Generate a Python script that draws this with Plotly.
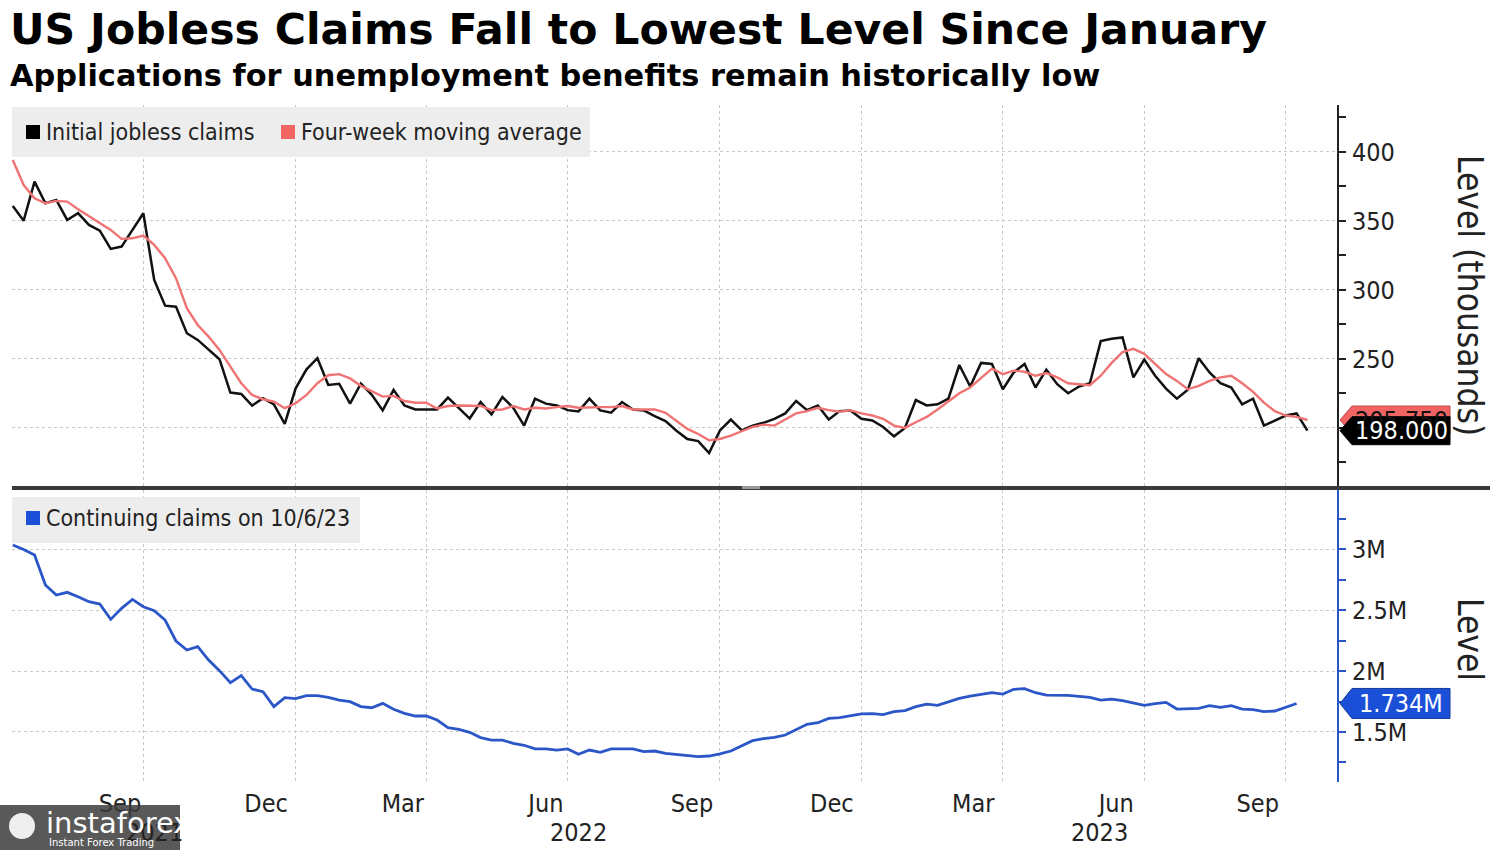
import pandas as pd
import plotly.graph_objects as go

# ---------------- data ----------------
# Initial jobless claims, thousands, weekly (week ending Saturday)
initial_claims = [
    360.9, 350.2, 378.5, 362.8, 365.2, 350.7, 355.6, 347.1, 343.0, 329.7,
    331.4, 343.5, 355.6, 307.2, 288.6, 287.9, 268.6, 263.8, 257.0, 249.8,
    225.6, 224.6, 216.2, 221.5, 217.1, 202.9, 228.7, 242.5, 250.5, 231.2,
    232.0, 217.6, 232.2, 224.0, 212.7, 227.6, 216.3, 213.4, 213.4, 213.4,
    222.0, 214.6, 206.8, 218.8, 209.8, 222.4, 214.6, 201.7, 221.2, 217.6,
    216.3, 212.9, 212.0, 221.2, 212.7, 211.0, 218.8, 213.4, 212.7, 208.5,
    204.9, 198.0, 192.0, 190.5, 181.8, 198.2, 206.1, 198.3, 201.7, 203.7,
    206.6, 210.5, 219.5, 212.9, 216.3, 206.1, 212.2, 212.7, 206.6, 205.4,
    200.7, 193.9, 200.0, 220.2, 216.3, 217.1, 221.2, 245.6, 230.0, 247.1,
    246.3, 228.0, 240.2, 246.3, 229.3, 242.2, 231.7, 225.1, 230.0, 232.4,
    262.9, 264.6, 265.6, 236.6, 249.5, 237.8, 228.5, 221.2, 227.6, 250.5,
    240.2, 232.4, 229.3, 217.1, 221.2, 201.7, 205.4, 209.0, 210.5, 198.0,
]

# Four-week moving average, thousands
moving_average = [
    394.2, 376.0, 366.4, 362.8, 364.5, 364.0, 358.5, 353.6, 348.3, 343.5,
    337.0, 337.4, 339.4, 332.6, 323.0, 308.5, 286.7, 274.6, 266.2, 256.5,
    244.4, 232.4, 223.9, 220.8, 219.1, 214.3, 217.9, 223.9, 232.4, 238.2,
    239.0, 235.9, 230.5, 226.8, 222.7, 223.2, 219.5, 218.3, 218.3, 214.1,
    215.9, 216.3, 216.3, 215.9, 212.9, 213.4, 215.9, 213.4, 214.6, 214.1,
    215.1, 215.9, 214.6, 215.1, 215.1, 215.1, 215.9, 213.4, 213.4, 213.4,
    211.0, 204.9, 199.3, 195.6, 191.0, 192.0, 194.4, 197.6, 200.7, 202.4,
    201.7, 206.1, 210.5, 212.2, 214.6, 212.9, 211.7, 212.7, 210.5, 209.0,
    206.6, 201.7, 200.0, 204.1, 208.0, 213.4, 219.5, 225.1, 229.3, 235.9,
    243.0, 239.0, 241.5, 240.7, 237.8, 239.8, 236.6, 232.4, 231.7, 231.0,
    237.8, 247.1, 254.9, 257.3, 253.7, 246.3, 239.0, 234.1, 228.0, 230.5,
    234.1, 236.6, 237.8, 232.4, 226.1, 218.3, 212.2, 209.0, 208.0, 205.75,
]

# Continuing claims, millions, weekly
continuing_claims = [
    3.033, 2.997, 2.951, 2.705, 2.623, 2.645, 2.609, 2.568, 2.549, 2.423,
    2.514, 2.587, 2.527, 2.495, 2.418, 2.246, 2.172, 2.199, 2.090, 2.003,
    1.904, 1.962, 1.852, 1.831, 1.708, 1.781, 1.773, 1.798, 1.798, 1.784,
    1.762, 1.749, 1.708, 1.699, 1.735, 1.686, 1.653, 1.631, 1.631, 1.598,
    1.536, 1.522, 1.497, 1.454, 1.434, 1.434, 1.407, 1.391, 1.361, 1.361,
    1.352, 1.361, 1.317, 1.352, 1.333, 1.361, 1.361, 1.361, 1.339, 1.344,
    1.325, 1.317, 1.303, 1.298, 1.303, 1.320, 1.344, 1.385, 1.429, 1.445,
    1.456, 1.475, 1.522, 1.563, 1.576, 1.612, 1.617, 1.631, 1.648, 1.650,
    1.642, 1.667, 1.675, 1.708, 1.729, 1.719, 1.749, 1.776, 1.795, 1.811,
    1.822, 1.811, 1.850, 1.855, 1.822, 1.803, 1.803, 1.800, 1.792, 1.784,
    1.762, 1.770, 1.757, 1.735, 1.719, 1.732, 1.743, 1.688, 1.694, 1.694,
    1.716, 1.702, 1.716, 1.688, 1.683, 1.667, 1.672, 1.700, 1.734,
]

first_week = "2021-07-03"
initial_dates = pd.date_range(first_week, periods=len(initial_claims), freq="7D")
continuing_dates = pd.date_range(first_week, periods=len(continuing_claims), freq="7D")

month_tick_dates = ["2021-09-10", "2021-12-13", "2022-03-11", "2022-06-11", "2022-09-13",
                    "2022-12-12", "2023-03-13", "2023-06-13", "2023-09-12"]
month_tick_labels = ["Sep", "Dec", "Mar", "Jun", "Sep", "Dec", "Mar", "Jun", "Sep"]
# vertical gridlines sit on the quarter-boundary weeks, as in the reference
quarter_grid_dates = ["2021-09-25", "2022-01-01", "2022-03-26", "2022-06-25", "2022-10-01",
                      "2022-12-31", "2023-04-01", "2023-07-01", "2023-09-30"]
year_labels = ["2021", "2022", "2023"]
year_label_dates = ["2021-10-02", "2022-07-02", "2023-06-02"]

top_ticks = [200, 250, 300, 350, 400]
top_minor = [175, 225, 275, 325, 375, 425]
bottom_ticks = [1.5, 2.0, 2.5, 3.0]
bottom_tick_labels = ["1.5M", "2M", "2.5M", "3M"]
bottom_minor = [1.25, 1.75, 2.25, 2.75, 3.25]

x_range = ["2021-07-02 12:00", "2023-11-02"]

# ---------------- styling ----------------
W, H = 1500, 850
FONT = "DejaVu Sans Condensed, DejaVu Sans, sans-serif"
TITLE_FONT = "DejaVu Sans, sans-serif"
BLACK = "#111111"
RED = "#ef7373"
RED_BOX = "#f06464"
BLUE = "#2a56c8"
BLUE_BOX = "#1c4fd8"
GRID = "#c9c9c9"
TXT = "#222222"


def px(x):
    return x / W


def py(y):
    return 1 - y / H


PLOT_L, PLOT_R = 12, 1337
TOP_T, TOP_B = 105, 487
BOT_T, BOT_B = 490, 782

fig = go.Figure()
fig.add_trace(go.Scatter(x=initial_dates, y=initial_claims, mode="lines",
                         line=dict(color=BLACK, width=2.5), xaxis="x", yaxis="y",
                         name="Initial jobless claims", showlegend=False))
fig.add_trace(go.Scatter(x=initial_dates, y=moving_average, mode="lines",
                         line=dict(color=RED, width=2.4), xaxis="x", yaxis="y",
                         name="Four-week moving average", showlegend=False))
fig.add_trace(go.Scatter(x=continuing_dates, y=[v * 1e6 for v in continuing_claims],
                         mode="lines", line=dict(color=BLUE, width=2.8),
                         xaxis="x2", yaxis="y2", name="Continuing claims",
                         showlegend=False))

common_x = dict(domain=[px(PLOT_L), px(PLOT_R)], type="date", range=x_range,
                zeroline=False, showline=False, automargin=False)

fig.update_layout(
    width=W, height=H,
    margin=dict(l=0, r=0, t=0, b=0),
    paper_bgcolor="white", plot_bgcolor="white",
    font=dict(family=FONT, color=TXT),
    xaxis=dict(**common_x, anchor="y", tickvals=quarter_grid_dates,
               showticklabels=False, ticks="", showgrid=True,
               gridcolor=GRID, griddash="dot", gridwidth=1),
    yaxis=dict(domain=[py(TOP_B), py(TOP_T)], anchor="x", side="right",
               range=[157.2, 434], tickvals=top_ticks,
               ticktext=[str(v) for v in top_ticks],
               showgrid=True, gridcolor=GRID, griddash="dot", gridwidth=1,
               ticks="outside", ticklen=7, tickwidth=2, tickcolor=TXT,
               showline=True, linecolor=TXT, linewidth=2,
               minor=dict(tickvals=top_minor, ticks="outside", ticklen=7,
                          tickwidth=1.5, tickcolor=TXT, showgrid=False),
               tickfont=dict(size=25, color=TXT, family=FONT),
               ticklabelstandoff=1, zeroline=False, automargin=False),
    xaxis2=dict(**common_x, anchor="y2", tickvals=month_tick_dates,
                ticktext=month_tick_labels, ticks="", showgrid=False,
                tickfont=dict(size=25, color=TXT, family=FONT),
                ticklabelstandoff=4,
                minor=dict(tickvals=quarter_grid_dates, showgrid=True,
                           gridcolor=GRID, griddash="dot", gridwidth=1, ticks="")),
    yaxis2=dict(domain=[py(BOT_B), py(BOT_T)], anchor="x2", side="right",
                range=[1.09e6, 3.484e6], tickvals=[v * 1e6 for v in bottom_ticks],
                ticktext=bottom_tick_labels,
                showgrid=True, gridcolor=GRID, griddash="dot", gridwidth=1,
                ticks="outside", ticklen=7, tickwidth=2, tickcolor=BLUE,
                showline=True, linecolor=BLUE, linewidth=2,
                minor=dict(tickvals=[v * 1e6 for v in bottom_minor], ticks="outside",
                           ticklen=7, tickwidth=1.5, tickcolor=BLUE, showgrid=False),
                tickfont=dict(size=25, color=TXT, family=FONT),
                ticklabelstandoff=1, zeroline=False, automargin=False),
)

shapes = []
annotations = []

# legend boxes
shapes.append(dict(type="rect", xref="paper", yref="paper", layer="above",
                   x0=px(12), x1=px(590), y0=py(157), y1=py(107),
                   fillcolor="#ededed", line=dict(width=0)))
shapes.append(dict(type="rect", xref="paper", yref="paper", layer="above",
                   x0=px(12), x1=px(360), y0=py(543), y1=py(497),
                   fillcolor="#ededed", line=dict(width=0)))
for (x0, yc, col) in [(26, 132, "#000000"), (281, 132, RED_BOX), (26, 518, BLUE_BOX)]:
    shapes.append(dict(type="rect", xref="paper", yref="paper", layer="above",
                       x0=px(x0), x1=px(x0 + 14), y0=py(yc + 7), y1=py(yc - 7),
                       fillcolor=col, line=dict(width=0)))
for (x0, yc, txt) in [(44, 132, "Initial jobless claims"),
                      (299, 132, "Four-week moving average"),
                      (44, 518, "Continuing claims on 10/6/23")]:
    annotations.append(dict(xref="paper", yref="paper", x=px(x0), y=py(yc),
                            xanchor="left", yanchor="middle", showarrow=False,
                            text=txt, font=dict(size=23, color=TXT, family=FONT)))

# separator between panels
shapes.append(dict(type="line", xref="paper", yref="paper", layer="above",
                   x0=px(12), x1=px(1490), y0=py(488), y1=py(488),
                   line=dict(color="#3a3a3a", width=4)))
shapes.append(dict(type="rect", xref="paper", yref="paper", layer="above",
                   x0=px(742), x1=px(760), y0=py(489), y1=py(486),
                   fillcolor="#9a9a9a", line=dict(width=0)))

# last-value labels
label_path = "M 3,0 L 15,14 L 113,14 L 113,-14 L 15,-14 Z"
shapes.append(dict(type="path", xref="paper", yref="y", layer="above",
                   xsizemode="pixel", ysizemode="pixel",
                   xanchor=px(PLOT_R), yanchor=moving_average[-1],
                   path=label_path, fillcolor=RED_BOX, line=dict(width=1, color="#c04848")))
shapes.append(dict(type="path", xref="paper", yref="y", layer="above",
                   xsizemode="pixel", ysizemode="pixel",
                   xanchor=px(PLOT_R), yanchor=initial_claims[-1],
                   path=label_path, fillcolor="#000000", line=dict(width=1, color="#000000")))
shapes.append(dict(type="path", xref="paper", yref="y2", layer="above",
                   xsizemode="pixel", ysizemode="pixel",
                   xanchor=px(PLOT_R), yanchor=continuing_claims[-1] * 1e6,
                   path="M 3,0 L 15,15 L 113,15 L 113,-15 L 15,-15 Z",
                   fillcolor=BLUE_BOX, line=dict(width=1, color="#123a9a")))
annotations.append(dict(xref="paper", yref="y", x=px(PLOT_R + 64), y=moving_average[-1],
                        text=f"{moving_average[-1]:.3f}", showarrow=False,
                        xanchor="center", yanchor="middle",
                        font=dict(size=25, color="#111111", family=FONT)))
annotations.append(dict(xref="paper", yref="y", x=px(PLOT_R + 64), y=initial_claims[-1],
                        text=f"{initial_claims[-1]:.3f}", showarrow=False,
                        xanchor="center", yanchor="middle",
                        font=dict(size=25, color="#ffffff", family=FONT)))
annotations.append(dict(xref="paper", yref="y2", x=px(PLOT_R + 64),
                        y=continuing_claims[-1] * 1e6,
                        text=f"{continuing_claims[-1]:.3f}M", showarrow=False,
                        xanchor="center", yanchor="middle",
                        font=dict(size=25, color="#ffffff", family=FONT)))

# axis titles (rotated clockwise)
annotations.append(dict(xref="paper", yref="paper", x=px(1470), y=py(295),
                        text="Level (thousands)", textangle=90, showarrow=False,
                        xanchor="center", yanchor="middle",
                        font=dict(size=35, color=TXT, family=FONT)))
annotations.append(dict(xref="paper", yref="paper", x=px(1470), y=py(639),
                        text="Level", textangle=90, showarrow=False,
                        xanchor="center", yanchor="middle",
                        font=dict(size=35, color=TXT, family=FONT)))

# year labels
for yl, yd in zip(year_labels, year_label_dates):
    annotations.append(dict(xref="x2", yref="paper", x=yd, y=py(832), text=yl,
                            showarrow=False, xanchor="center", yanchor="middle",
                            font=dict(size=25, color=TXT, family=FONT)))

# title and subtitle
annotations.append(dict(xref="paper", yref="paper", x=px(8), y=py(29),
                        text="<b>US Jobless Claims Fall to Lowest Level Since January</b>",
                        showarrow=False, xanchor="left", yanchor="middle",
                        font=dict(size=42.6, color="#000000", family=TITLE_FONT)))
annotations.append(dict(xref="paper", yref="paper", x=px(8), y=py(75),
                        text="<b>Applications for unemployment benefits remain historically low</b>",
                        showarrow=False, xanchor="left", yanchor="middle",
                        font=dict(size=30.4, color="#000000", family=TITLE_FONT)))

# watermark
shapes.append(dict(type="rect", xref="paper", yref="paper", layer="above",
                   x0=0, x1=px(180), y0=0, y1=py(805),
                   fillcolor="rgba(60,60,60,0.85)", line=dict(width=0)))
shapes.append(dict(type="circle", xref="paper", yref="paper", layer="above",
                   x0=px(9), x1=px(35), y0=py(839), y1=py(813),
                   fillcolor="rgba(255,255,255,0.9)", line=dict(width=0)))
annotations.append(dict(xref="paper", yref="paper", x=px(44), y=py(823),
                        text="instaforex", showarrow=False, xanchor="left",
                        yanchor="middle",
                        font=dict(size=29, color="#ffffff", family="DejaVu Sans, sans-serif")))
annotations.append(dict(xref="paper", yref="paper", x=px(47), y=py(842),
                        text="Instant Forex Trading", showarrow=False, xanchor="left",
                        yanchor="middle",
                        font=dict(size=10, color="#ffffff", family="DejaVu Sans, sans-serif")))

fig.update_layout(shapes=shapes, annotations=annotations)

fig.write_html("out.html", config=dict(displayModeBar=False),
               post_script="document.body.style.margin='0';"
                           "document.body.style.overflow='hidden';")
